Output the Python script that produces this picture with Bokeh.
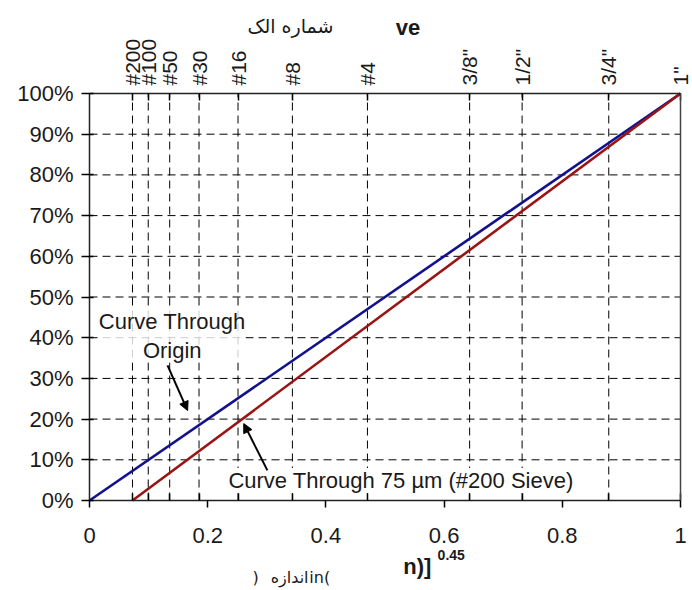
from math import pi
from bokeh.plotting import figure
from bokeh.models import (LinearAxis, FixedTicker, Range1d, Label, Arrow,
                          NormalHead, NumeralTickFormatter)
from bokeh.embed import file_html
from bokeh.resources import INLINE

# ---- data ----
sieve_labels = ["#200", "#100", "#50", "#30", "#16", "#8", "#4",
                '3/8"', '1/2"', '3/4"', '1"']
sieve_pos = [0.0727, 0.0994, 0.1357, 0.1853, 0.2513, 0.3433, 0.4703,
             0.6432, 0.7320, 0.8786, 1.0]
x_ticks = [0, 0.2, 0.4, 0.6, 0.8, 1.0]
x_tick_labels = ["0", "0.2", "0.4", "0.6", "0.8", "1"]
y_ticks = [0.0, 0.1, 0.2, 0.3, 0.4, 0.5, 0.6, 0.7, 0.8, 0.9, 1.0]

origin_x = [0.0, 1.0]
origin_y = [0.0, 1.0]
c75_x = [0.0727, 1.0]
c75_y = [0.0, 1.0]

FONT = "Liberation Sans"
INK = "#1a1a1a"
X_LO, X_HI = x_ticks[0], x_ticks[-1]
Y_LO, Y_HI = y_ticks[0], y_ticks[-1]

p = figure(width=692, height=590, output_backend="svg", toolbar_location=None,
           x_range=Range1d(-0.1506, 1.0203), y_range=Range1d(-0.2211, 1.2285),
           x_axis_type=None, y_axis_type=None,
           min_border_left=0, min_border_right=0,
           min_border_top=0, min_border_bottom=0)
p.outline_line_color = None
p.background_fill_color = "white"
p.border_fill_color = "white"

# grid lines (dashed)
n = len(sieve_pos)
p.segment(x0=sieve_pos, y0=[Y_LO] * n, x1=sieve_pos, y1=[Y_HI] * n,
          line_color="black", line_width=1, line_dash="8 5")
m = len(y_ticks)
p.segment(x0=[X_LO] * m, y0=y_ticks, x1=[X_HI] * m, y1=y_ticks,
          line_color="black", line_width=1, line_dash="8 5")


def style(ax, size="22px"):
    ax.major_label_text_font = FONT
    ax.major_label_text_font_size = size
    ax.major_label_text_color = INK
    ax.axis_line_width = 1.5
    ax.axis_line_color = "#222222"
    ax.major_tick_line_width = 1.5
    ax.minor_tick_line_width = 1.5


# bottom axis at y=0
xb = LinearAxis(ticker=FixedTicker(ticks=x_ticks, minor_ticks=sieve_pos),
                fixed_location=0, bounds=(0, 1))
xb.major_label_overrides = {t: l for t, l in zip(x_ticks, x_tick_labels)}
xb.major_tick_in = 0
xb.major_tick_out = 7
xb.minor_tick_in = 7
xb.minor_tick_out = 0
xb.major_label_standoff = 20
style(xb)
p.add_layout(xb, "below")

# left axis at x=0
yl = LinearAxis(ticker=FixedTicker(ticks=y_ticks, minor_ticks=[]),
                formatter=NumeralTickFormatter(format="0%"),
                fixed_location=0, bounds=(0, 1))
yl.major_tick_in = 4
yl.major_tick_out = 8
yl.major_label_standoff = 8
style(yl)
p.add_layout(yl, "left")

# right border at x=1
yr = LinearAxis(ticker=FixedTicker(ticks=[], minor_ticks=[]),
                fixed_location=1, bounds=(0, 1))
yr.axis_line_width = 1.5
yr.axis_line_color = "#444444"
yr.major_label_text_alpha = 0
p.add_layout(yr, "right")

# top axis (sieve numbers) at y=1
xt = LinearAxis(ticker=FixedTicker(ticks=sieve_pos, minor_ticks=[]),
                fixed_location=1, bounds=(0, 1))
xt.major_label_overrides = {t: l for t, l in zip(sieve_pos, sieve_labels)}
xt.major_label_orientation = pi / 2
xt.major_tick_in = 7
xt.major_tick_out = 0
xt.major_label_standoff = 8
style(xt, "21px")
p.add_layout(xt, "above")

# curves
p.line(origin_x, origin_y, line_color="#12128f", line_width=2.6)
p.line(c75_x, c75_y, line_color="#9b1414", line_width=2.6)

# annotations
lab1 = Label(x=0.140, y=0.405, text="Curve Through\nOrigin", text_align="center",
             text_baseline="middle", text_font=FONT, text_font_size="22px",
             text_color=INK, text_line_height=1.15,
             background_fill_color="white", background_fill_alpha=0.8)
p.add_layout(lab1)
lab2 = Label(x=0.235, y=0.049, text="Curve Through 75 \u00b5m (#200 Sieve)",
             text_align="left", text_baseline="middle", text_font=FONT,
             text_font_size="22px", text_color=INK,
             background_fill_color="white", background_fill_alpha=1.0)
p.add_layout(lab2)

p.add_layout(Arrow(end=NormalHead(size=9, fill_color="black", line_color="black"),
                   x_start=0.132, y_start=0.332, x_end=0.166, y_end=0.221,
                   line_color="black", line_width=2))
p.add_layout(Arrow(end=NormalHead(size=9, fill_color="black", line_color="black"),
                   x_start=0.301, y_start=0.074, x_end=0.261, y_end=0.189,
                   line_color="black", line_width=2))

# titles (partially translated)
p.add_layout(Label(x=0.340, y=1.167, text="شماره الک", text_align="center",
                   text_baseline="middle", text_font="DejaVu Sans",
                   text_font_size="19px", text_color=INK))
p.add_layout(Label(x=0.518, y=1.162, text="ve", text_align="left",
                   text_baseline="middle", text_font=FONT, text_font_style="bold",
                   text_font_size="22px", text_color=INK))
p.add_layout(Label(x=0.531, y=-0.162, text="n)]", text_align="left",
                   text_baseline="middle", text_font=FONT, text_font_style="bold",
                   text_font_size="22px", text_color=INK))
p.add_layout(Label(x=0.589, y=-0.133, text="0.45", text_align="left",
                   text_baseline="middle", text_font=FONT, text_font_style="bold",
                   text_font_size="14px", text_color=INK))
# bottom Persian unit label, drawn in three runs to keep the visual order
p.add_layout(Label(x=0.276, y=-0.19, text=")", text_align="left",
                   text_baseline="middle", text_font="DejaVu Sans",
                   text_font_size="16px", text_color=INK))
p.add_layout(Label(x=0.3706, y=-0.19, text="اندازه", text_align="right",
                   text_baseline="middle", text_font="DejaVu Sans",
                   text_font_size="16px", text_color=INK))
p.add_layout(Label(x=0.372, y=-0.19, text="in(", text_align="left",
                   text_baseline="middle", text_font="DejaVu Sans",
                   text_font_size="16px", text_color=INK))

open("out.html", "w").write(file_html(p, INLINE))
